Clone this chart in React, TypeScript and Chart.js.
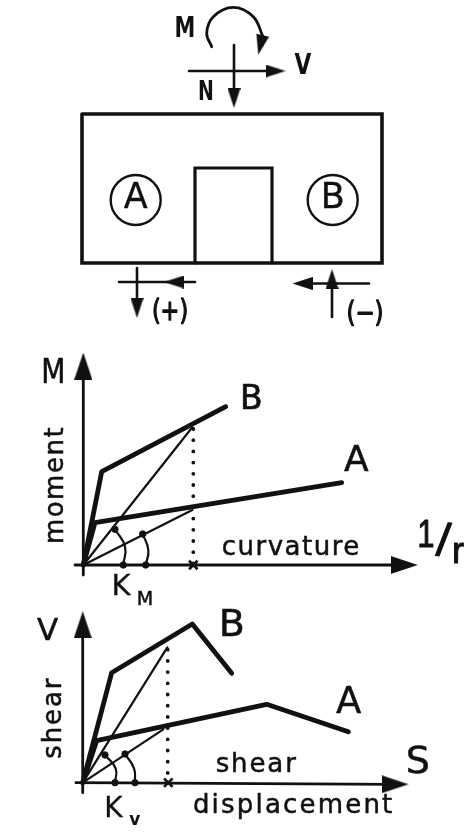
import React, { useEffect, useRef } from "react";
import { Chart, registerables } from "chart.js";

Chart.register(...registerables);

type P = { x: number; y: number };
const pts = (a: number[][]): P[] => a.map(([x, y]) => ({ x, y }));
const INK = "#111111";
const DEJAVU = '"DejaVu Sans"';
const LIB = '"Liberation Sans"';

// ---- section diagram (page pixels)
const wallOutline = [[82, 114], [382, 114], [382, 263], [82, 263], [82, 114]];
const openingOutline = [[195, 263], [195, 168], [272, 168], [272, 263]];
const momentArc = [[211.7, 46.7], [206.7, 33.3], [213.3, 16.7], [233.3, 7.3], [253.3, 16.7], [263, 36.7]];
const forceN = [[234, 45], [234, 100]];
const forceV = [[189, 71], [275, 71]];
const leftShear = [[119, 282], [195, 282]];
const leftAxial = [[137, 268], [137, 305]];
const rightShear = [[305, 283.5], [369, 283.5]];
const rightAxial = [[332, 317], [332, 280]];
const sectionHeads = [[260.5, 45], [234, 98], [275.5, 71], [174, 282], [137, 308], [302.5, 283.5], [332, 279]];
const sectionHeadAngles = [193, 180, 90, 270, 180, 270, 0];
const sectionCircles = [[135.7, 200], [332.7, 200]];

// ---- moment / curvature
const momentB = [[0, 0], [18.4, 93.3], [142.4, 158.3]];
const momentA = [[0, 0], [11.7, 42.3], [258.4, 82.3]];
const momentSecantB = [[0, 0], [109, 137.7]];
const momentSecantA = [[0, 0], [109, 55]];
const momentDotted = [[110, 136], [110, 0]];
const momentArc1 = [[31.7, 35.7], [41.7, 18.3], [40, 0]];
const momentArc2 = [[59.4, 31], [65, 15], [62.4, 0]];
const momentXAxis = [[-8.3, 0], [325, 0]];
const momentYAxis = [[0, -10], [0, 200]];
const momentHeads = [[0, 199], [321, 0]];
const momentCross = [[110, 0]];

// ---- shear / displacement
const shearB = [[0, 0], [29, 110], [109.6, 158.7], [149, 109.4]];
const shearA = [[0, 0], [14, 42], [184, 78.4], [265.6, 51]];
const shearSecantB = [[0, 0], [84.6, 135.4]];
const shearSecantA = [[0, 0], [80.6, 53.4]];
const shearDotted = [[85, 133], [85, 0]];
const shearArc1 = [[22.3, 27.7], [33, 14], [32.3, 0]];
const shearArc2 = [[42.3, 28.7], [51.3, 14.4], [52.3, 0]];
const shearXAxis = [[-6.7, 0], [312, -1.6]];
const shearYAxis = [[0, -10], [0, 160]];
const shearHeads = [[0, 158], [312.3, -1.6]];
const shearCross = [[85.6, 0]];

type Label = {
  t: string; x: number; y: number; s: number; rot?: number; ls?: number;
  w?: string; f?: string; sx?: number; stroke?: number;
};
const sectionLabels: Label[] = [
  { t: "M", x: 185, y: 29, s: 29, w: "bold", sx: 0.72 },
  { t: "V", x: 303, y: 66, s: 29, w: "bold", sx: 0.75 },
  { t: "N", x: 206, y: 93, s: 27, w: "bold", sx: 0.7 },
  { t: "A", x: 135.7, y: 199, s: 35, stroke: 0.4 },
  { t: "B", x: 332.7, y: 199, s: 35, stroke: 0.4 },
  { t: "(+)", x: 170, y: 313, s: 28, sx: 0.8, stroke: 1.3 },
  { t: "(−)", x: 365, y: 315, s: 28, sx: 0.82, stroke: 1.3 },
];
const momentLabels: Label[] = [
  { t: "M", x: -30, y: 191, s: 33, sx: 0.85, stroke: 0.6 },
  { t: "B", x: 168, y: 165, s: 33, stroke: 0.7 },
  { t: "A", x: 273, y: 103, s: 36, stroke: 0.6 },
  { t: "moment", x: -27, y: 80, s: 26, rot: -90, ls: 1.5, stroke: 0.5 },
  { t: "curvature", x: 208, y: 17, s: 26, ls: 1.5, stroke: 0.5 },
  { t: "1", x: 342.7, y: 28, s: 38, f: LIB, sx: 0.8, stroke: 1.2 },
  { t: "/", x: 360, y: 22, s: 46, f: LIB, rot: 6, stroke: 1.2 },
  { t: "r", x: 374.7, y: 12, s: 36, f: LIB, stroke: 1 },
  { t: "K", x: 37.7, y: -22, s: 29, stroke: 0.3 },
  { t: "M", x: 61.7, y: -35, s: 19, stroke: 0.5 },
];
const shearLabels: Label[] = [
  { t: "V", x: -35, y: 151, s: 31, stroke: 0.6 },
  { t: "B", x: 149, y: 157, s: 38, stroke: 0.5 },
  { t: "A", x: 266, y: 79, s: 37, stroke: 0.5 },
  { t: "S", x: 335, y: 20, s: 38, stroke: 0.5 },
  { t: "shear", x: -28, y: 65, s: 26, rot: -90, ls: 1.9, stroke: 0.5 },
  { t: "shear", x: 174, y: 17, s: 26, ls: 1.9, stroke: 0.5 },
  { t: "displacement", x: 211, y: -24, s: 26, ls: 2.2, stroke: 0.5 },
  { t: "K", x: 30.8, y: -27, s: 28, stroke: 0.3 },
  { t: "v", x: 52, y: -38, s: 17, w: "bold" },
];

const arrowHead = (w: number, h: number) => {
  const c = document.createElement("canvas");
  c.width = w;
  c.height = h;
  const g = c.getContext("2d")!;
  g.fillStyle = INK;
  g.beginPath();
  g.moveTo(w / 2, 0);
  g.lineTo(w, h);
  g.lineTo(0, h);
  g.closePath();
  g.fill();
  return c;
};

const line = (d: number[][], width: number, extra: any = {}) => ({
  data: pts(d),
  showLine: true,
  borderColor: INK,
  borderWidth: width,
  pointRadius: 0,
  borderCapStyle: "round",
  borderJoinStyle: "round",
  tension: 0,
  ...extra,
});
const markers = (d: number[][], style: any, radius: number, extra: any = {}) => ({
  data: pts(d),
  showLine: false,
  pointStyle: style,
  pointRadius: radius,
  pointBackgroundColor: INK,
  pointBorderColor: INK,
  pointBorderWidth: 1,
  ...extra,
});

const labelPlugin = (labels: Label[]) => ({
  id: "textLabels",
  afterDatasetsDraw(chart: any) {
    const { ctx, scales } = chart;
    ctx.save();
    ctx.fillStyle = INK;
    ctx.strokeStyle = INK;
    ctx.lineJoin = "round";
    ctx.textAlign = "center";
    ctx.textBaseline = "middle";
    for (const l of labels) {
      ctx.save();
      ctx.translate(scales.x.getPixelForValue(l.x), scales.y.getPixelForValue(l.y));
      if (l.rot) ctx.rotate((l.rot * Math.PI) / 180);
      if (l.sx) ctx.scale(l.sx, 1);
      ctx.font = `${l.w ?? "normal"} ${l.s}px ${l.f ?? DEJAVU}`;
      ctx.letterSpacing = `${l.ls ?? 0}px`;
      ctx.fillText(l.t, 0, 0);
      if (l.stroke) {
        ctx.lineWidth = l.stroke;
        ctx.strokeText(l.t, 0, 0);
      }
      ctx.restore();
    }
    ctx.restore();
  },
});

const build = (
  canvas: HTMLCanvasElement,
  datasets: any[],
  labels: Label[],
  xr: [number, number],
  yr: [number, number],
  reverseY = false,
) =>
  new Chart(canvas, {
    type: "scatter",
    data: { datasets },
    options: {
      animation: false,
      responsive: false,
      clip: false,
      layout: { padding: 0, autoPadding: false },
      plugins: { legend: { display: false }, tooltip: { enabled: false } },
      scales: {
        x: { type: "linear", display: false, min: xr[0], max: xr[1] },
        y: { type: "linear", display: false, min: yr[0], max: yr[1], reverse: reverseY },
      },
    } as any,
    plugins: [labelPlugin(labels)],
  } as any);

const boxStyle = (top: number): React.CSSProperties => ({
  position: "absolute",
  left: 0,
  top,
  filter: "blur(0.5px)",
});

export default function App() {
  const a = useRef<HTMLCanvasElement>(null);
  const b = useRef<HTMLCanvasElement>(null);
  const c = useRef<HTMLCanvasElement>(null);

  useEffect(() => {
    const small = arrowHead(13, 20);
    const big = arrowHead(18, 27);

    const section = build(
      a.current!,
      [
        markers(sectionHeads, small, 10, { pointRotation: sectionHeadAngles }),
        markers(sectionCircles, "circle", 25, {
          pointBackgroundColor: "rgba(0,0,0,0)",
          pointBorderWidth: 2.4,
        }),
        line(wallOutline, 3.6, { borderJoinStyle: "miter" }),
        line(openingOutline, 3.2, { borderJoinStyle: "miter" }),
        line(momentArc, 2.8, { tension: 0.4 }),
        line(forceN, 2.6),
        line(forceV, 2.6),
        line(leftShear, 2.6),
        line(leftAxial, 2.6),
        line(rightShear, 2.6),
        line(rightAxial, 2.6),
      ],
      sectionLabels,
      [0, 471],
      [0, 340],
      true,
    );

    const moment = build(
      b.current!,
      [
        markers(momentHeads, big, 13, { pointRotation: [0, 90] }),
        markers(momentCross, "crossRot", 6, { pointBorderWidth: 2.6 }),
        markers([momentArc1[0], momentArc2[0], momentArc1[2], momentArc2[2]], "circle", 3.2),
        line(momentB, 4.8),
        line(momentA, 4.8),
        line(momentSecantB, 2.2),
        line(momentSecantA, 2.2),
        line(momentDotted, 3.8, { borderDash: [0, 11.2] }),
        line(momentArc1, 2.2, { tension: 0.5 }),
        line(momentArc2, 2.2, { tension: 0.5 }),
        line(momentXAxis, 2.8),
        line(momentYAxis, 2.8),
      ],
      momentLabels,
      [-83.3, 387.7],
      [-45, 225],
    );

    const shear = build(
      c.current!,
      [
        markers(shearHeads, big, 13, { pointRotation: [0, 90] }),
        markers(shearCross, "crossRot", 6, { pointBorderWidth: 2.6 }),
        markers([shearArc1[0], shearArc2[0], shearArc1[2], shearArc2[2]], "circle", 3.2),
        line(shearB, 4.8),
        line(shearA, 4.8),
        line(shearSecantB, 2.2),
        line(shearSecantA, 2.2),
        line(shearDotted, 3.8, { borderDash: [0, 11.2] }),
        line(shearArc1, 2.2, { tension: 0.5 }),
        line(shearArc2, 2.2, { tension: 0.5 }),
        line(shearXAxis, 2.8),
        line(shearYAxis, 2.8),
      ],
      shearLabels,
      [-82.7, 388.3],
      [-49.3, 192.7],
    );

    return () => {
      section.destroy();
      moment.destroy();
      shear.destroy();
    };
  }, []);

  return (
    <div>
      <canvas ref={a} width={471} height={340} style={boxStyle(0)} />
      <canvas ref={b} width={471} height={270} style={boxStyle(340)} />
      <canvas ref={c} width={471} height={242} style={boxStyle(590)} />
    </div>
  );
}
